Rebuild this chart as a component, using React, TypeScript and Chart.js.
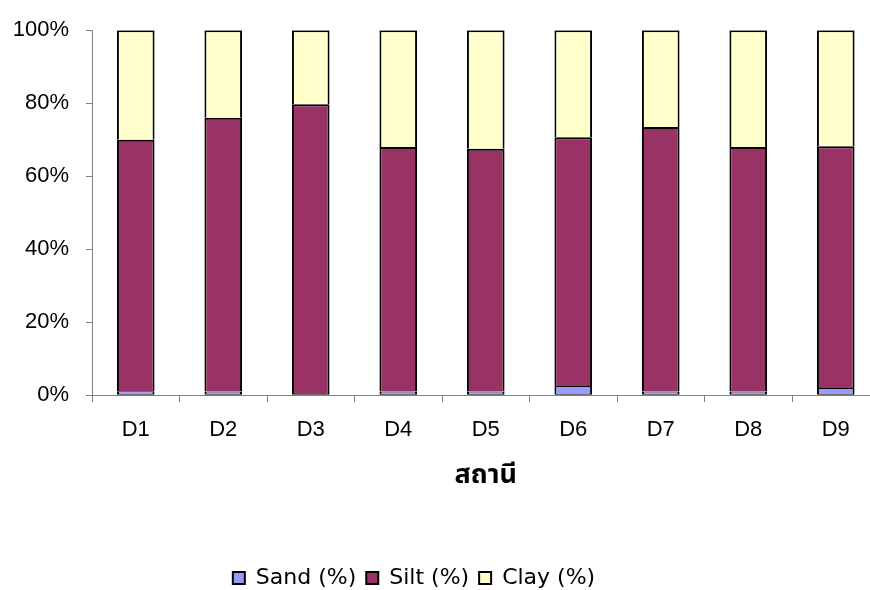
import { useEffect, useRef } from "react";
import { Chart, registerables } from "chart.js";

Chart.register(...registerables);

// Sediment composition per sampling station (percent of sample)
const stations = ["D1", "D2", "D3", "D4", "D5", "D6", "D7", "D8", "D9"];
const sandPct = [1.1, 1, 0.3, 1, 1, 2.5, 1, 1, 2];
const siltPct = [68.9, 75, 79.4, 67, 66.5, 68.2, 72.5, 67, 66.2];
const clayPct = [30, 24, 20.3, 32, 32.5, 29.3, 26.5, 32, 31.8];
const yTickValues = [0, 20, 40, 60, 80, 100];
const seriesNames = ["Sand (%)", "Silt (%)", "Clay (%)"];
const xAxisTitle = "สถานี";

const CANVAS_W = 890;
const CANVAS_H = 590;
const LEGEND_CX = 419;
const LEGEND_CY = 578;
const LEGEND_FONT = 22;
const LEGEND_PAD = 10;
const AXIS_FONT = "Arial, 'Liberation Sans', Helvetica, sans-serif";

// Places the legend row at a fixed spot below the axis title
const legendPlacement = {
  id: "legendPlacement",
  afterLayout(chart: any) {
    const lg = chart.legend;
    if (!lg) return;
    const cx = (lg.left + LEGEND_PAD + lg.right) / 2;
    const cy = lg.top + LEGEND_PAD + LEGEND_FONT / 2;
    const dx = LEGEND_CX - cx;
    const dy = LEGEND_CY - cy;
    lg.left += dx;
    lg.right += dx;
    lg.top += dy;
    lg.bottom += dy;
  },
};

export default function App() {
  const canvasRef = useRef<HTMLCanvasElement | null>(null);

  useEffect(() => {
    const canvas = canvasRef.current;
    if (!canvas) return;

    const axisGrey = "#808080";
    const chart = new Chart(canvas, {
      type: "bar",
      data: {
        labels: stations,
        datasets: [
          {
            label: seriesNames[0],
            data: sandPct,
            backgroundColor: "#9999FF",
            borderColor: "#000000",
            borderWidth: { top: 1, bottom: 1, left: 2, right: 2 },
            borderSkipped: false,
          },
          {
            label: seriesNames[1],
            data: siltPct,
            backgroundColor: "#993366",
            borderColor: "#000000",
            borderWidth: 2,
          },
          {
            label: seriesNames[2],
            data: clayPct,
            backgroundColor: "#FFFFCC",
            borderColor: "#000000",
            borderWidth: 2,
          },
        ],
      },
      options: {
        animation: false,
        responsive: false,
        devicePixelRatio: 1,
        layout: { padding: { top: 30, right: 10.5, left: 0, bottom: 0 } },
        datasets: {
          bar: { barPercentage: 0.43, categoryPercentage: 1 },
        },
        scales: {
          x: {
            stacked: true,
            grid: {
              offset: true,
              drawOnChartArea: false,
              drawTicks: true,
              tickLength: 7,
              color: axisGrey,
            },
            border: { color: axisGrey, width: 1 },
            ticks: {
              color: "#000000",
              padding: 15,
              font: { family: AXIS_FONT, size: 22 },
            },
            title: {
              display: true,
              text: xAxisTitle,
              color: "#000000",
              padding: { top: 3, bottom: 54 },
              font: {
                family: "'Noto Sans Thai', Tahoma, 'Noto Sans', 'DejaVu Sans', sans-serif",
                size: 27,
                weight: "bold",
              },
            },
          },
          y: {
            stacked: true,
            min: 0,
            max: 100,
            afterFit: (scale: any) => {
              scale.width = 92;
            },
            afterBuildTicks: (scale: any) => {
              scale.ticks = yTickValues.map((v) => ({ value: v }));
            },
            grid: {
              drawOnChartArea: false,
              drawTicks: true,
              tickLength: 6,
              color: axisGrey,
            },
            border: { color: axisGrey, width: 1 },
            ticks: {
              color: "#000000",
              padding: 17,
              font: { family: AXIS_FONT, size: 22 },
              callback: (v: any) => `${v}%`,
            },
          },
        },
        plugins: {
          tooltip: { enabled: false },
          legend: {
            position: "bottom",
            labels: {
              color: "#000000",
              boxWidth: 12,
              boxHeight: 12,
              padding: LEGEND_PAD,
              font: { family: "'DejaVu Sans', sans-serif", size: LEGEND_FONT },
              generateLabels: (c: any) =>
                c.data.datasets.map((ds: any, i: number) => ({
                  text: ds.label,
                  fillStyle: ds.backgroundColor,
                  strokeStyle: "#000000",
                  lineWidth: 2,
                  hidden: false,
                  datasetIndex: i,
                })),
            },
          },
        },
      },
      plugins: [legendPlacement],
    });

    return () => chart.destroy();
  }, []);

  return (
    <div
      style={{
        position: "fixed",
        left: 0,
        top: 0,
        width: 870,
        height: 590,
        overflow: "hidden",
        background: "#ffffff",
      }}
    >
      <canvas
        ref={canvasRef}
        width={CANVAS_W}
        height={CANVAS_H}
        style={{ display: "block", width: CANVAS_W, height: CANVAS_H }}
      />
    </div>
  );
}
